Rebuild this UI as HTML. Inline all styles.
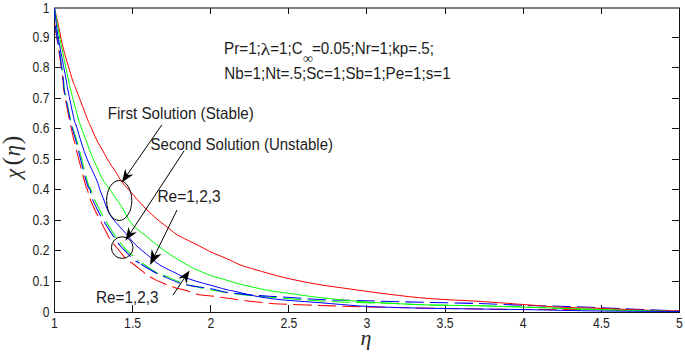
<!DOCTYPE html>
<html><head><meta charset="utf-8"><style>
html,body{margin:0;padding:0;background:#fff;overflow:hidden;}
svg{display:block;}
text{font-family:"Liberation Sans", sans-serif;fill:#1c1c1c;}
.s{font-family:"Liberation Serif", serif;fill:#2a2a2a;}
</style></head><body>
<svg width="685" height="353" viewBox="0 0 685 353">
<rect x="0" y="0" width="685" height="353" fill="#fff"/>
<rect x="54" y="7" width="626" height="2" fill="#808080"/>
<rect x="54" y="8" width="1" height="305" fill="#141414"/>
<rect x="679" y="8" width="1" height="305" fill="#141414"/>
<rect x="54" y="312" width="626" height="1" fill="#141414"/>
<rect x="132" y="305" width="1" height="7" fill="#141414"/>
<rect x="132" y="8" width="1" height="6" fill="#141414"/>
<rect x="210" y="305" width="1" height="7" fill="#141414"/>
<rect x="210" y="8" width="1" height="6" fill="#141414"/>
<rect x="288" y="305" width="1" height="7" fill="#141414"/>
<rect x="288" y="8" width="1" height="6" fill="#141414"/>
<rect x="366" y="305" width="1" height="7" fill="#141414"/>
<rect x="366" y="8" width="1" height="6" fill="#141414"/>
<rect x="445" y="305" width="1" height="7" fill="#141414"/>
<rect x="445" y="8" width="1" height="6" fill="#141414"/>
<rect x="523" y="305" width="1" height="7" fill="#141414"/>
<rect x="523" y="8" width="1" height="6" fill="#141414"/>
<rect x="601" y="305" width="1" height="7" fill="#141414"/>
<rect x="601" y="8" width="1" height="6" fill="#141414"/>
<rect x="55" y="281" width="6" height="1" fill="#141414"/>
<rect x="672" y="281" width="7" height="1" fill="#141414"/>
<rect x="55" y="250" width="6" height="1" fill="#141414"/>
<rect x="672" y="250" width="7" height="1" fill="#141414"/>
<rect x="55" y="220" width="6" height="1" fill="#141414"/>
<rect x="672" y="220" width="7" height="1" fill="#141414"/>
<rect x="55" y="189" width="6" height="1" fill="#141414"/>
<rect x="672" y="189" width="7" height="1" fill="#141414"/>
<rect x="55" y="159" width="6" height="1" fill="#141414"/>
<rect x="672" y="159" width="7" height="1" fill="#141414"/>
<rect x="55" y="128" width="6" height="1" fill="#141414"/>
<rect x="672" y="128" width="7" height="1" fill="#141414"/>
<rect x="55" y="98" width="6" height="1" fill="#141414"/>
<rect x="672" y="98" width="7" height="1" fill="#141414"/>
<rect x="55" y="67" width="6" height="1" fill="#141414"/>
<rect x="672" y="67" width="7" height="1" fill="#141414"/>
<rect x="55" y="37" width="6" height="1" fill="#141414"/>
<rect x="672" y="37" width="7" height="1" fill="#141414"/>
<g transform="scale(1,1.04)"><path d="M54.50,7.69 C54.68,11.22 54.88,22.12 55.60,28.85 C56.32,35.58 57.58,40.06 58.80,48.08 C60.02,56.09 62.07,70.51 62.90,76.92 C63.73,83.33 62.72,80.13 63.80,86.54 C64.88,92.95 68.25,109.65 69.40,115.38 C70.55,121.12 69.85,117.37 70.70,120.96 C71.55,124.55 72.17,127.92 74.50,136.92 C76.83,145.93 82.52,167.36 84.70,175.00 C86.88,182.64 86.83,180.40 87.60,182.79 C88.37,185.18 88.02,185.99 89.30,189.33 C90.58,192.66 93.50,199.07 95.30,202.79 C97.10,206.51 97.77,207.29 100.10,211.63 C102.43,215.98 106.73,224.70 109.30,228.85 C111.87,233.00 112.50,232.96 115.50,236.54 C118.50,240.11 124.48,247.52 127.30,250.29 C130.12,253.06 129.22,250.93 132.40,253.17 C135.58,255.42 142.47,261.06 146.40,263.75 C150.33,266.44 152.98,267.82 156.00,269.33 C159.02,270.83 161.45,271.60 164.50,272.79 C167.55,273.97 170.72,275.35 174.30,276.44 C177.88,277.53 182.05,278.19 186.00,279.33 C189.95,280.46 193.83,282.40 198.00,283.27 C202.17,284.13 206.33,283.97 211.00,284.52 C215.67,285.06 221.17,285.88 226.00,286.54 C230.83,287.20 235.17,287.85 240.00,288.46 C244.83,289.07 248.33,289.55 255.00,290.19 C261.67,290.83 269.17,291.73 280.00,292.31 C290.83,292.88 306.67,293.21 320.00,293.65 C333.33,294.10 345.00,294.62 360.00,295.00 C375.00,295.38 390.00,295.61 410.00,295.96 C430.00,296.31 460.00,296.83 480.00,297.12 C500.00,297.40 510.00,297.61 530.00,297.69 C550.00,297.77 575.17,297.29 600.00,297.60 C624.83,297.90 665.83,299.20 679.00,299.52" fill="none" stroke="#ff0000" stroke-width="1.0" stroke-dasharray="18.3 6.2" stroke-dashoffset="8.37"/></g>
<g transform="scale(1,1.04)"><path d="M54.50,7.69 C54.75,11.22 55.18,22.12 56.00,28.85 C56.82,35.58 58.13,40.06 59.40,48.08 C60.67,56.09 62.75,70.51 63.60,76.92 C64.45,83.33 63.33,80.13 64.50,86.54 C65.67,92.95 69.35,109.62 70.60,115.38 C71.85,121.15 70.85,117.47 72.00,121.15 C73.15,124.84 74.90,128.53 77.50,137.50 C80.10,146.47 85.35,167.53 87.60,175.00 C89.85,182.47 90.07,179.92 91.00,182.31 C91.93,184.70 91.65,185.91 93.20,189.33 C94.75,192.74 98.30,199.07 100.30,202.79 C102.30,206.51 102.62,207.45 105.20,211.63 C107.78,215.82 112.83,223.73 115.80,227.88 C118.77,232.04 121.30,234.50 123.00,236.54 C124.70,238.57 124.08,238.29 126.00,240.10 C127.92,241.91 132.38,245.64 134.50,247.40 C136.62,249.17 135.12,248.29 138.70,250.67" fill="none" stroke="#00ff00" stroke-width="1.0" stroke-dasharray="18.3 6.2" stroke-dashoffset="6.84"/><path d="M138.70,250.67 C142.28,253.06 152.12,259.55 156.00,261.73 C159.88,263.91 157.75,262.05 162.00,263.75 C166.25,265.45 175.83,269.92 181.50,271.92 C187.17,273.93 188.58,274.21 196.00,275.77 C203.42,277.32 215.33,279.70 226.00,281.25 C236.67,282.80 251.00,284.21 260.00,285.10 C269.00,285.98 273.33,286.06 280.00,286.54 C286.67,287.02 290.00,287.34 300.00,287.98 C310.00,288.62 325.00,289.78 340.00,290.38 C355.00,290.99 375.00,291.15 390.00,291.63 C405.00,292.12 415.00,292.87 430.00,293.27 C445.00,293.67 463.33,293.67 480.00,294.04 C496.67,294.41 510.00,294.87 530.00,295.48 C550.00,296.09 575.17,297.02 600.00,297.69 C624.83,298.37 665.83,299.21 679.00,299.52" fill="none" stroke="#00ff00" stroke-width="1.0" stroke-dasharray="18.3 6.2" stroke-dashoffset="20.66"/></g>
<g transform="scale(1,1.04)"><path d="M54.50,7.69 C54.73,11.22 55.12,22.12 55.90,28.85 C56.68,35.58 57.97,40.06 59.20,48.08 C60.43,56.09 62.47,70.51 63.30,76.92 C64.13,83.33 63.05,80.13 64.20,86.54 C65.35,92.95 68.97,109.62 70.20,115.38 C71.43,121.15 70.55,117.47 71.60,121.15 C72.65,124.84 74.03,128.53 76.50,137.50 C78.97,146.47 84.12,167.45 86.40,175.00 C88.68,182.55 89.35,180.40 90.20,182.79 C91.05,185.18 90.23,186.06 91.50,189.33 C92.77,192.60 95.87,198.69 97.80,202.40 C99.73,206.12 100.45,207.44 103.10,211.63 C105.75,215.83 110.80,223.45 113.70,227.60 C116.60,231.75 118.45,234.12 120.50,236.54 C122.55,238.96 123.82,239.97 126.00,242.12 C128.18,244.26 131.33,247.58 133.60,249.42 C135.87,251.27 135.87,250.99 139.60,253.17" fill="none" stroke="#0000ff" stroke-width="1.0" stroke-dasharray="18.3 6.2" stroke-dashoffset="7.17"/><path d="M139.60,253.17 C143.33,255.35 152.13,260.46 156.00,262.50 C159.87,264.54 158.70,263.73 162.80,265.38 C166.90,267.04 175.07,270.71 180.60,272.40 C186.13,274.10 190.93,274.71 196.00,275.58 C201.07,276.44 206.00,276.68 211.00,277.60 C216.00,278.51 218.50,279.98 226.00,281.06 C233.50,282.13 247.00,283.32 256.00,284.04 C265.00,284.76 269.33,284.73 280.00,285.38 C290.67,286.04 307.50,287.40 320.00,287.98 C332.50,288.56 343.33,288.53 355.00,288.85 C366.67,289.17 377.50,289.58 390.00,289.90 C402.50,290.22 415.00,290.43 430.00,290.77 C445.00,291.11 463.33,291.43 480.00,291.92 C496.67,292.42 516.67,293.32 530.00,293.75 C543.33,294.18 548.33,294.18 560.00,294.52 C571.67,294.86 580.17,295.02 600.00,295.77 C619.83,296.52 665.83,298.49 679.00,299.04" fill="none" stroke="#0000ff" stroke-width="1.0" stroke-dasharray="18.3 6.2" stroke-dashoffset="22.46"/></g>
<path d="M54.50,8.00 C55.32,11.67 57.87,23.00 59.40,30.00 C60.93,37.00 61.52,41.67 63.70,50.00 C65.88,58.33 70.38,73.33 72.50,80.00 C74.62,86.67 73.85,83.33 76.40,90.00 C78.95,96.67 85.53,114.17 87.80,120.00 C90.07,125.83 88.52,121.67 90.00,125.00 C91.48,128.33 94.63,135.83 96.70,140.00 C98.77,144.17 100.68,146.92 102.40,150.00 C104.12,153.08 105.45,155.82 107.00,158.50 C108.55,161.18 110.13,163.70 111.70,166.10 C113.27,168.50 114.88,170.50 116.40,172.90 C117.92,175.30 119.45,178.48 120.80,180.50 C122.15,182.52 122.93,183.20 124.50,185.00 C126.07,186.80 128.12,188.92 130.20,191.30 C132.28,193.68 134.37,196.37 137.00,199.30 C139.63,202.23 142.78,205.70 146.00,208.90 C149.22,212.10 152.97,215.62 156.30,218.50 C159.63,221.38 162.72,223.62 166.00,226.20 C169.28,228.78 173.67,232.32 176.00,234.00 C178.33,235.68 177.67,235.07 180.00,236.30 C182.33,237.53 186.67,239.73 190.00,241.40 C193.33,243.07 196.67,244.60 200.00,246.30 C203.33,248.00 206.67,250.02 210.00,251.60 C213.33,253.18 216.67,254.38 220.00,255.80 C223.33,257.22 226.50,258.53 230.00,260.10 C233.50,261.67 236.67,263.58 241.00,265.20 C245.33,266.82 249.50,267.92 256.00,269.80 C262.50,271.68 272.67,274.63 280.00,276.50 C287.33,278.37 293.33,279.63 300.00,281.00 C306.67,282.37 311.67,283.37 320.00,284.70 C328.33,286.03 338.33,287.38 350.00,289.00 C361.67,290.62 376.67,292.80 390.00,294.40 C403.33,296.00 415.00,297.43 430.00,298.60 C445.00,299.77 463.33,300.33 480.00,301.40 C496.67,302.47 516.67,304.03 530.00,305.00 C543.33,305.97 548.33,306.65 560.00,307.20 C571.67,307.75 586.67,307.83 600.00,308.30 C613.33,308.77 626.83,309.55 640.00,310.00 C653.17,310.45 672.50,310.83 679.00,311.00" fill="none" stroke="#ff0000" stroke-width="1.0"/>
<path d="M54.50,8.00 C55.15,11.67 57.12,23.00 58.40,30.00 C59.68,37.00 60.52,41.67 62.20,50.00 C63.88,58.33 67.08,73.33 68.50,80.00 C69.92,86.67 69.00,83.33 70.70,90.00 C72.40,96.67 77.08,114.17 78.70,120.00 C80.32,125.83 78.27,119.17 80.40,125.00 C82.53,130.83 88.90,148.33 91.50,155.00 C94.10,161.67 94.08,160.83 96.00,165.00 C97.92,169.17 100.63,175.83 103.00,180.00 C105.37,184.17 107.87,186.67 110.20,190.00 C112.53,193.33 114.73,196.67 117.00,200.00 C119.27,203.33 121.82,206.67 123.80,210.00 C125.78,213.33 126.87,216.97 128.90,220.00 C130.93,223.03 133.15,225.55 136.00,228.20 C138.85,230.85 142.67,233.20 146.00,235.90 C149.33,238.60 152.67,241.77 156.00,244.40 C159.33,247.03 162.67,249.38 166.00,251.70 C169.33,254.02 172.67,256.22 176.00,258.30 C179.33,260.38 182.67,262.33 186.00,264.20 C189.33,266.07 191.83,267.62 196.00,269.50 C200.17,271.38 206.00,273.75 211.00,275.50 C216.00,277.25 221.83,278.73 226.00,280.00 C230.17,281.27 232.00,282.02 236.00,283.10 C240.00,284.18 244.33,285.23 250.00,286.50 C255.67,287.77 263.33,289.53 270.00,290.70 C276.67,291.87 281.67,292.35 290.00,293.50 C298.33,294.65 308.33,296.27 320.00,297.60 C331.67,298.93 348.33,300.55 360.00,301.50 C371.67,302.45 378.33,302.72 390.00,303.30 C401.67,303.88 415.00,304.58 430.00,305.00 C445.00,305.42 463.33,305.42 480.00,305.80 C496.67,306.18 510.00,306.67 530.00,307.30 C550.00,307.93 575.17,308.90 600.00,309.60 C624.83,310.30 665.83,311.18 679.00,311.50" fill="none" stroke="#00ff00" stroke-width="1.0"/>
<path d="M54.50,8.00 C54.93,11.67 56.10,23.00 57.10,30.00 C58.10,37.00 58.98,41.67 60.50,50.00 C62.02,58.33 64.97,73.33 66.20,80.00 C67.43,86.67 66.57,83.33 67.90,90.00 C69.23,96.67 72.85,114.17 74.20,120.00 C75.55,125.83 74.12,119.17 76.00,125.00 C77.88,130.83 82.07,145.83 85.50,155.00 C88.93,164.17 94.18,174.17 96.60,180.00 C99.02,185.83 98.78,186.67 100.00,190.00 C101.22,193.33 102.63,196.67 103.90,200.00 C105.17,203.33 106.08,206.83 107.60,210.00 C109.12,213.17 109.93,215.05 113.00,219.00 C116.07,222.95 122.20,229.37 126.00,233.70 C129.80,238.03 131.83,241.13 135.80,245.00 C139.77,248.87 145.80,253.57 149.80,256.90 C153.80,260.23 155.43,262.28 159.80,265.00 C164.17,267.72 172.38,271.37 176.00,273.20 C179.62,275.03 178.17,274.67 181.50,276.00 C184.83,277.33 191.08,279.65 196.00,281.20 C200.92,282.75 206.00,283.92 211.00,285.30 C216.00,286.68 221.83,288.45 226.00,289.50 C230.17,290.55 231.00,290.48 236.00,291.60 C241.00,292.72 248.67,294.87 256.00,296.20 C263.33,297.53 269.33,298.52 280.00,299.60 C290.67,300.68 306.67,301.63 320.00,302.70 C333.33,303.77 348.33,305.23 360.00,306.00 C371.67,306.77 378.33,306.92 390.00,307.30 C401.67,307.68 415.00,308.02 430.00,308.30 C445.00,308.58 463.33,308.77 480.00,309.00 C496.67,309.23 510.00,309.37 530.00,309.70 C550.00,310.03 575.17,310.70 600.00,311.00 C624.83,311.30 665.83,311.42 679.00,311.50" fill="none" stroke="#0000ff" stroke-width="1.0"/>
<text transform="translate(49.4,317.2) scale(0.93,1.09)" font-size="13" text-anchor="end">0</text>
<text transform="translate(49.4,285.7) scale(0.93,1.09)" font-size="13" text-anchor="end">0.1</text>
<text transform="translate(49.4,255.2) scale(0.93,1.09)" font-size="13" text-anchor="end">0.2</text>
<text transform="translate(49.4,224.7) scale(0.93,1.09)" font-size="13" text-anchor="end">0.3</text>
<text transform="translate(49.4,194.2) scale(0.93,1.09)" font-size="13" text-anchor="end">0.4</text>
<text transform="translate(49.4,163.7) scale(0.93,1.09)" font-size="13" text-anchor="end">0.5</text>
<text transform="translate(49.4,133.2) scale(0.93,1.09)" font-size="13" text-anchor="end">0.6</text>
<text transform="translate(49.4,102.7) scale(0.93,1.09)" font-size="13" text-anchor="end">0.7</text>
<text transform="translate(49.4,72.2) scale(0.93,1.09)" font-size="13" text-anchor="end">0.8</text>
<text transform="translate(49.4,41.7) scale(0.93,1.09)" font-size="13" text-anchor="end">0.9</text>
<text transform="translate(49.4,12.7) scale(0.93,1.09)" font-size="13" text-anchor="end">1</text>
<text transform="translate(54.5,327.7) scale(0.94,1.1)" font-size="13" text-anchor="middle">1</text>
<text transform="translate(132.6,327.7) scale(0.94,1.1)" font-size="13" text-anchor="middle">1.5</text>
<text transform="translate(210.8,327.7) scale(0.94,1.1)" font-size="13" text-anchor="middle">2</text>
<text transform="translate(288.9,327.7) scale(0.94,1.1)" font-size="13" text-anchor="middle">2.5</text>
<text transform="translate(367.0,327.7) scale(0.94,1.1)" font-size="13" text-anchor="middle">3</text>
<text transform="translate(445.1,327.7) scale(0.94,1.1)" font-size="13" text-anchor="middle">3.5</text>
<text transform="translate(523.2,327.7) scale(0.94,1.1)" font-size="13" text-anchor="middle">4</text>
<text transform="translate(601.4,327.7) scale(0.94,1.1)" font-size="13" text-anchor="middle">4.5</text>
<text transform="translate(679.5,327.7) scale(0.94,1.1)" font-size="13" text-anchor="middle">5</text>
<text transform="translate(107.7,119.4) scale(1.0,1.1)" font-size="15.2">First Solution (Stable)</text>
<text transform="translate(150.6,149.7) scale(1.0,1.1)" font-size="15">Second Solution (Unstable)</text>
<text transform="translate(157.4,201.8) scale(1.0,1.1)" font-size="15.5">Re=1,2,3</text>
<text transform="translate(96,302.8) scale(1.0,1.1)" font-size="15.3">Re=1,2,3</text>
<text transform="translate(224.1,53.6) scale(1.0,1.1)" font-size="15.2">Pr=1;</text>
<text transform="translate(260.6,54.9) scale(1.2,1.02)" font-size="17" class="s">λ</text>
<text transform="translate(270.2,53.6) scale(1.0,1.1)" font-size="15.2">=1;C</text>
<text transform="translate(303,62.5) scale(1.0,1.0)" font-size="14" class="s">∞</text>
<text transform="translate(312,53.6) scale(1.0,1.1)" font-size="15.2">=0.05;Nr=1;kp=.5;</text>
<text transform="translate(224.3,78.8) scale(1.0,1.1)" font-size="15.2">Nb=1;Nt=.5;Sc=1;Sb=1;Pe=1;s=1</text>
<g transform="translate(20,0) rotate(-90)"><text class="s" font-style="italic" font-size="22" x="-178.5" y="0">χ</text><text class="s" font-size="26" x="-165.5" y="0.3">(</text><text class="s" font-style="italic" font-size="22.5" x="-156.3" y="0">η</text><text class="s" font-size="26" x="-144.3" y="0.3">)</text></g>
<text class="s" x="366" y="344.5" font-size="22" text-anchor="middle" font-style="italic">η</text>
<ellipse cx="119.2" cy="200.5" rx="12.6" ry="20.0" fill="none" stroke="#000" stroke-width="1"/>
<circle cx="122.2" cy="247.6" r="10.8" fill="none" stroke="#000" stroke-width="1"/>
<line x1="161.8" y1="124.9" x2="127.03" y2="175.01" stroke="#000" stroke-width="1"/><path d="M121.9,182.4 L125.20,168.87 L127.03,175.01 L133.42,174.57 Z" fill="#000"/>
<line x1="184.2" y1="150.7" x2="130.42" y2="232.97" stroke="#000" stroke-width="1"/><path d="M125.5,240.5 L128.43,226.88 L130.42,232.97 L136.80,232.35 Z" fill="#000"/>
<line x1="177" y1="210" x2="154.63" y2="255.57" stroke="#000" stroke-width="1"/><path d="M150,265 L151.67,249.11 L154.63,255.57 L161.55,253.96 Z" fill="#000"/>
<line x1="173" y1="295" x2="184.57" y2="277.86" stroke="#000" stroke-width="1"/><path d="M189.6,270.4 L186.47,283.97 L184.57,277.86 L178.18,278.38 Z" fill="#000"/>
</svg></body></html>
